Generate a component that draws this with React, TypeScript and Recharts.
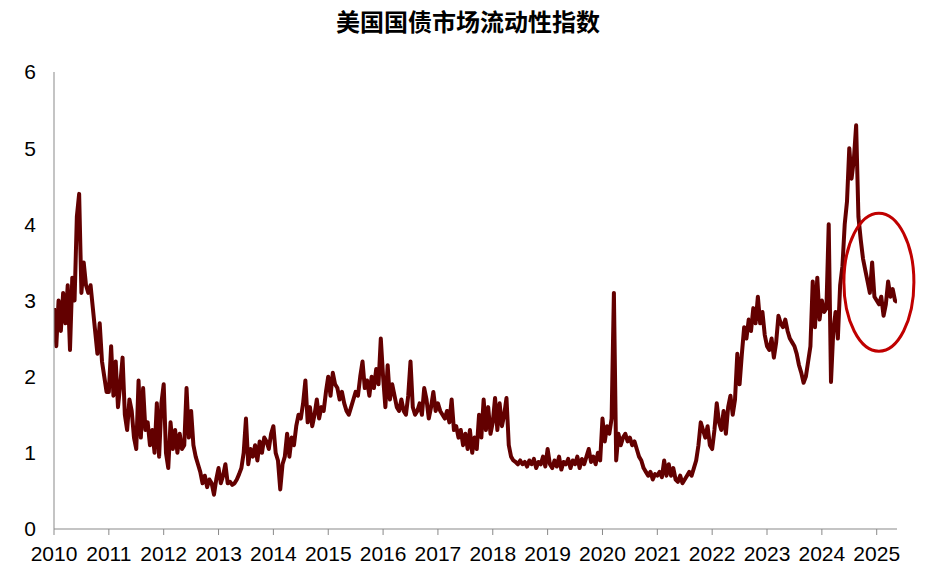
import React from "react";
import {
  LineChart,
  Line,
  XAxis,
  YAxis,
  ReferenceDot,
} from "recharts";

// 半月频率读数 (每年 24 个点)
const v2010 = [2.9, 2.4, 3.0, 2.6, 3.1, 2.7, 3.2, 2.35, 3.3, 3.0, 4.1, 4.4, 3.1, 3.5, 3.2, 3.1, 3.2, 2.9, 2.6, 2.3, 2.7, 2.2, 2.0, 1.8];
const v2011 = [1.8, 2.4, 1.75, 2.2, 1.6, 1.9, 2.25, 1.5, 1.3, 1.7, 1.55, 1.2, 1.05, 1.95, 1.2, 1.85, 1.3, 1.4, 1.1, 1.3, 1.0, 1.65, 0.95, 1.65];
const v2012 = [1.9, 1.0, 0.8, 1.4, 1.05, 1.3, 1.0, 1.25, 1.05, 1.1, 1.85, 1.2, 1.55, 1.1, 0.95, 0.85, 0.75, 0.6, 0.7, 0.55, 0.65, 0.6, 0.45, 0.65];
const v2013 = [0.8, 0.6, 0.7, 0.85, 0.6, 0.62, 0.58, 0.6, 0.65, 0.72, 0.8, 1.0, 1.45, 0.85, 1.05, 0.95, 1.1, 0.9, 1.15, 1.0, 1.2, 1.15, 1.05, 1.25];
const v2014 = [1.35, 1.0, 0.9, 0.52, 0.85, 0.95, 1.25, 0.95, 1.2, 1.1, 1.35, 1.5, 1.45, 1.65, 1.95, 1.4, 1.6, 1.35, 1.5, 1.7, 1.45, 1.6, 1.55, 1.8];
const v2015 = [2.0, 1.75, 2.05, 1.9, 1.85, 1.7, 1.8, 1.65, 1.55, 1.5, 1.6, 1.7, 1.8, 1.75, 2.0, 2.2, 1.85, 1.95, 1.75, 2.0, 1.85, 2.1, 1.9, 2.5];
const v2016 = [2.0, 1.6, 2.15, 1.7, 1.9, 1.75, 1.6, 1.55, 1.7, 1.55, 1.5, 1.75, 2.2, 1.6, 1.5, 1.55, 1.65, 1.5, 1.85, 1.7, 1.45, 1.6, 1.8, 1.55];
const v2017 = [1.65, 1.55, 1.5, 1.45, 1.55, 1.4, 1.7, 1.3, 1.35, 1.2, 1.3, 1.1, 1.25, 1.05, 1.3, 1.0, 1.2, 1.05, 1.5, 1.2, 1.7, 1.3, 1.6, 1.25];
const v2018 = [1.4, 1.72, 1.3, 1.65, 1.35, 1.5, 1.72, 1.1, 0.95, 0.9, 0.88, 0.85, 0.9, 0.85, 0.88, 0.82, 0.9, 0.85, 0.92, 0.8, 0.88, 0.85, 0.95, 0.82];
const v2019 = [1.05, 0.85, 0.8, 0.9, 0.82, 0.95, 0.78, 0.88, 0.85, 0.92, 0.8, 0.9, 0.85, 0.95, 0.8, 0.92, 0.85, 0.95, 1.05, 0.88, 0.95, 0.85, 1.0, 0.9];
const v2020 = [1.45, 1.15, 1.35, 1.25, 1.45, 3.1, 0.9, 1.25, 1.1, 1.2, 1.25, 1.15, 1.2, 1.1, 1.15, 1.05, 0.95, 0.9, 0.8, 0.75, 0.7, 0.75, 0.65, 0.72];
const v2021 = [0.7, 0.75, 0.68, 0.9, 0.7, 0.85, 0.7, 0.8, 0.65, 0.62, 0.7, 0.6, 0.65, 0.7, 0.75, 0.7, 0.8, 0.9, 1.1, 1.4, 1.3, 1.2, 1.35, 1.1];
const v2022 = [1.05, 1.3, 1.65, 1.4, 1.3, 1.55, 1.25, 1.6, 1.75, 1.5, 1.7, 2.3, 1.9, 2.3, 2.65, 2.5, 2.75, 2.6, 2.9, 2.7, 3.05, 2.7, 2.85, 2.55];
const v2023 = [2.4, 2.35, 2.5, 2.25, 2.45, 2.8, 2.7, 2.65, 2.75, 2.6, 2.5, 2.45, 2.4, 2.3, 2.15, 2.05, 1.92, 2.0, 2.2, 2.4, 3.25, 2.65, 3.3, 2.75];
const v2024 = [3.0, 2.85, 2.9, 4.0, 1.93, 2.6, 2.85, 2.5, 3.2, 3.45, 4.0, 4.3, 5.0, 4.6, 4.85, 5.3, 4.1, 3.8, 3.55, 3.4, 3.25, 3.1, 3.5, 3.05];
const v2025 = [3.0, 2.95, 3.05, 2.8, 2.95, 3.25, 3.05, 3.15, 3.0, 2.98];

const years = [2010, 2011, 2012, 2013, 2014, 2015, 2016, 2017, 2018, 2019, 2020, 2021, 2022, 2023, 2024, 2025];
const yearValues = [v2010, v2011, v2012, v2013, v2014, v2015, v2016, v2017, v2018, v2019, v2020, v2021, v2022, v2023, v2024, v2025];
const yTicks = [0, 1, 2, 3, 4, 5, 6];

const data = years.flatMap((yr, k) =>
  yearValues[k].map((v, i) => ({ t: yr + i / 24, value: v }))
);

const Ellipse = (props: any) => (
  <ellipse
    cx={props.cx}
    cy={props.cy}
    rx={35}
    ry={69}
    fill="none"
    stroke="#C00000"
    strokeWidth={3}
  />
);

const font = "Arial, 'Liberation Sans', sans-serif";

export default function App() {
  return (
    <div style={{ position: "relative", width: 920, height: 563 }}>
      <div
        style={{
          position: "absolute",
          top: -5,
          left: 0,
          width: 920,
          textAlign: "center",
          fontFamily: "'Noto Sans CJK SC', sans-serif",
          fontWeight: 700,
          fontSize: 24,
          color: "#000",
        }}
      >
        美国国债市场流动性指数
      </div>
      <LineChart
        width={920}
        height={563}
        data={data}
        margin={{ top: 64, right: 31, left: 0, bottom: 0 }}
      >
        <XAxis
          dataKey="t"
          type="number"
          domain={[2010, 2025.37]}
          ticks={years}
          allowDataOverflow
          height={42}
          tick={{ fill: "#000", fontSize: 21, fontFamily: font }}
          tickSize={6}
          tickMargin={11}
          stroke="#898989"
        />
        <YAxis
          domain={[0, 6]}
          ticks={yTicks}
          width={46}
          tickLine={false}
          tickSize={0}
          tickMargin={18}
          tick={{ fill: "#000", fontSize: 21, fontFamily: font }}
          stroke="#898989"
        />
        <Line
          type="linear"
          dataKey="value"
          stroke="#630000"
          strokeWidth={4}
          strokeLinejoin="round"
          dot={false}
          isAnimationActive={false}
        />
        <ReferenceDot x={2025.04} y={3.24} shape={Ellipse} ifOverflow="visible" />
      </LineChart>
    </div>
  );
}
